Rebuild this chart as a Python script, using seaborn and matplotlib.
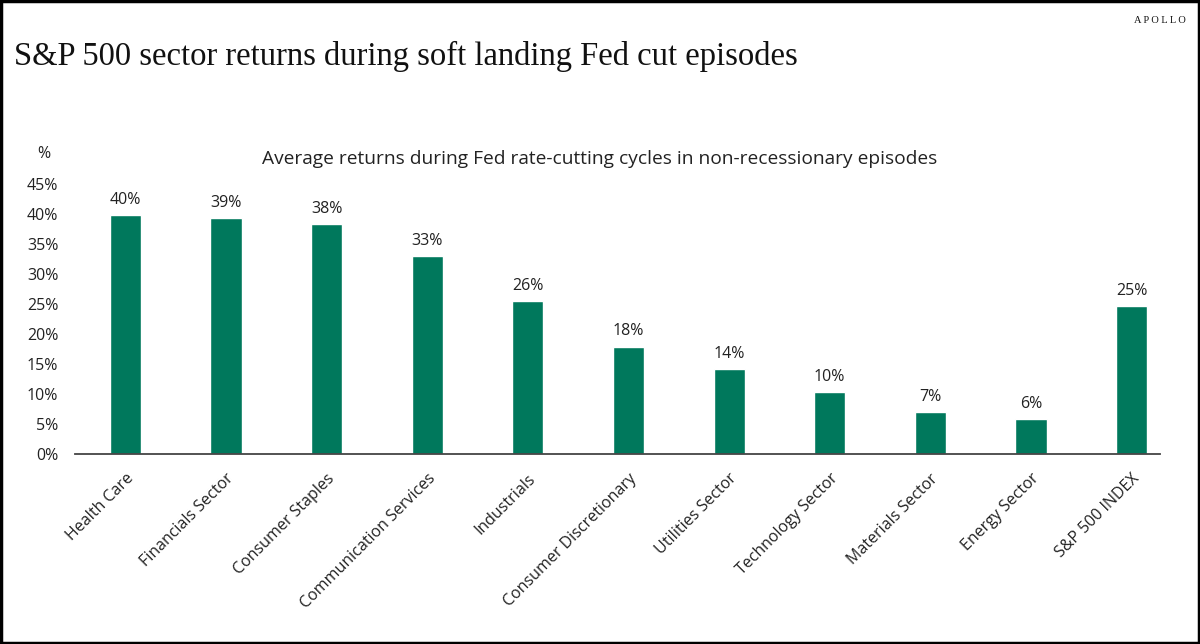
import matplotlib
matplotlib.use("Agg")
import matplotlib.pyplot as plt
import seaborn as sns
import pandas as pd
from matplotlib.patches import Rectangle

# Values
sectors = [
    "Health Care", "Financials Sector", "Consumer Staples", "Communication Services",
    "Industrials", "Consumer Discretionary", "Utilities Sector", "Technology Sector",
    "Materials Sector", "Energy Sector", "S&P 500 INDEX",
]
avg_return = [39.9, 39.3, 38.3, 33.0, 25.5, 17.9, 14.1, 10.3, 7.0, 5.8, 24.7]
bar_labels = ["40%", "39%", "38%", "33%", "26%", "18%", "14%", "10%", "7%", "6%", "25%"]
y_ticks = [0, 5, 10, 15, 20, 25, 30, 35, 40, 45]

GREEN = "#00785C"
TEXT = "#222222"

df = pd.DataFrame({"sector": sectors, "ret": avg_return})

sns.set_style("white")
plt.rcParams["font.family"] = ["Open Sans", "DejaVu Sans"]

fig = plt.figure(figsize=(12, 6.44), dpi=100)
ax = fig.add_axes([0.0625, 0.295, 0.904, 0.419])

sns.barplot(data=df, x="sector", y="ret", color=GREEN, width=0.31,
            saturation=1, ax=ax)

for i, (v, lab) in enumerate(zip(avg_return, bar_labels)):
    ax.text(i, v + 1.2, lab, ha="center", va="bottom", fontsize=11.5, color=TEXT)

ax.set_xlim(-0.5, 10.28)
ax.set_ylim(0, 45)
ax.set_yticks(y_ticks)
ax.set_yticklabels([f"{t}%" for t in y_ticks], fontsize=11.5, color=TEXT)
ax.set_xticks(range(len(sectors)))
ax.set_xticklabels(sectors, rotation=45, ha="right", rotation_mode="anchor",
                   fontsize=11.5, color=TEXT)
ax.tick_params(axis="both", length=0)
ax.tick_params(axis="y", pad=12)
ax.tick_params(axis="x", pad=12)
ax.set_xlabel("")
ax.set_ylabel("")

for side in ["top", "right", "left"]:
    ax.spines[side].set_visible(False)
ax.spines["bottom"].set_color("#444444")
ax.spines["bottom"].set_linewidth(1.3)

fig.text(0.031, 0.755, "%", fontsize=11.5, color=TEXT)
fig.text(0.5, 0.745, "Average returns during Fed rate-cutting cycles in non-recessionary episodes",
         ha="center", fontsize=13.8, color=TEXT)

fig.text(0.012, 0.912, "S&P 500 sector returns during soft landing Fed cut episodes",
         fontsize=23.5, color="#111111", family=["Liberation Serif", "DejaVu Serif"],
         va="center")
fig.text(0.988, 0.968, "A P O L L O", fontsize=7.5, color="#111111", ha="right",
         family=["Liberation Serif", "DejaVu Serif"], va="center")

# frame around the whole figure
fig.patches.append(Rectangle((0.001, 0.002), 0.998, 0.996, transform=fig.transFigure,
                             fill=False, edgecolor="black", linewidth=2.5))

fig.savefig("out.png", dpi=100, facecolor="white")
